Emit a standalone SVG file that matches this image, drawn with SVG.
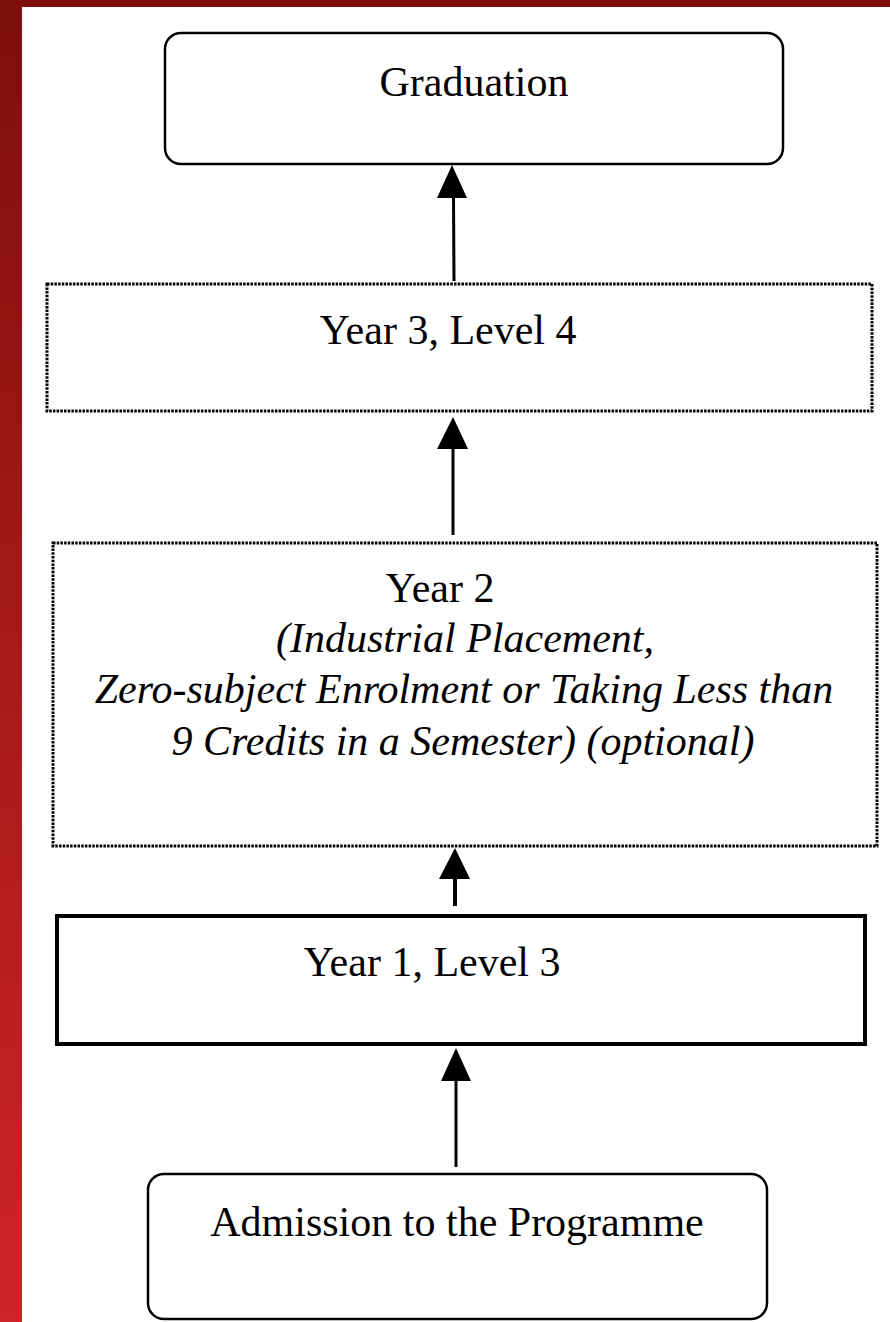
<svg xmlns="http://www.w3.org/2000/svg" width="890" height="1322" viewBox="0 0 890 1322">
<defs>
<linearGradient id="side" x1="0" y1="0" x2="0" y2="1">
<stop offset="0" stop-color="#7e0f0b"/>
<stop offset="1" stop-color="#cf2427"/>
</linearGradient>
<style>
.t{font-family:"Liberation Serif","Times New Roman",serif;font-size:42px;fill:#000;text-anchor:middle}
.i{font-style:italic}
.round{fill:#fff;stroke:#000;stroke-width:2.5}
.dot{fill:#fff;stroke:#000;stroke-width:3;stroke-dasharray:2.5 1.2}
.solid{fill:#fff;stroke:#000;stroke-width:4}
.stem{stroke:#000;stroke-width:3;fill:none}
.head{fill:#000}
</style>
</defs>
<rect x="0" y="0" width="890" height="1322" fill="#fff"/>
<rect x="0" y="0" width="22" height="1322" fill="url(#side)"/>
<rect x="0" y="0" width="890" height="7" fill="#7e0f0b"/>

<g id="graduation">
<rect class="round" x="165" y="33" width="618" height="131" rx="16"/>
<text class="t" x="474" y="96">Graduation</text>
</g>
<g id="year3">
<rect class="dot" x="47" y="284" width="825" height="127"/>
<text class="t" x="448" y="344">Year 3, Level 4</text>
</g>
<g id="year2">
<rect class="dot" x="53" y="543" width="824" height="303"/>
<text class="t" x="440" y="602">Year 2</text>
<text class="t i" x="465" y="652">(Industrial Placement,</text>
<text class="t i" x="464" y="703">Zero-subject Enrolment or Taking Less than</text>
<text class="t i" x="463" y="755">9 Credits in a Semester) (optional)</text>
</g>
<g id="year1">
<rect class="solid" x="57" y="916" width="808" height="128"/>
<text class="t" x="432" y="976">Year 1, Level 3</text>
</g>
<g id="admission">
<rect class="round" x="148" y="1174" width="619" height="145" rx="16"/>
<text class="t" x="457" y="1236">Admission to the Programme</text>
</g>

<g id="connectors">
<line class="stem" x1="453.5" y1="196" x2="454" y2="281"/>
<polygon class="head" points="452,165 437,198 467,198"/>
<line class="stem" x1="453" y1="447" x2="453" y2="535"/>
<polygon class="head" points="453,417 437,449 468,449"/>
<line class="stem" x1="455" y1="877" x2="455" y2="906" style="stroke-width:4"/>
<polygon class="head" points="455,848 439,879 470,879"/>
<line class="stem" x1="456" y1="1079" x2="456" y2="1167"/>
<polygon class="head" points="456,1048 441,1081 471,1081"/>
</g>
</svg>
